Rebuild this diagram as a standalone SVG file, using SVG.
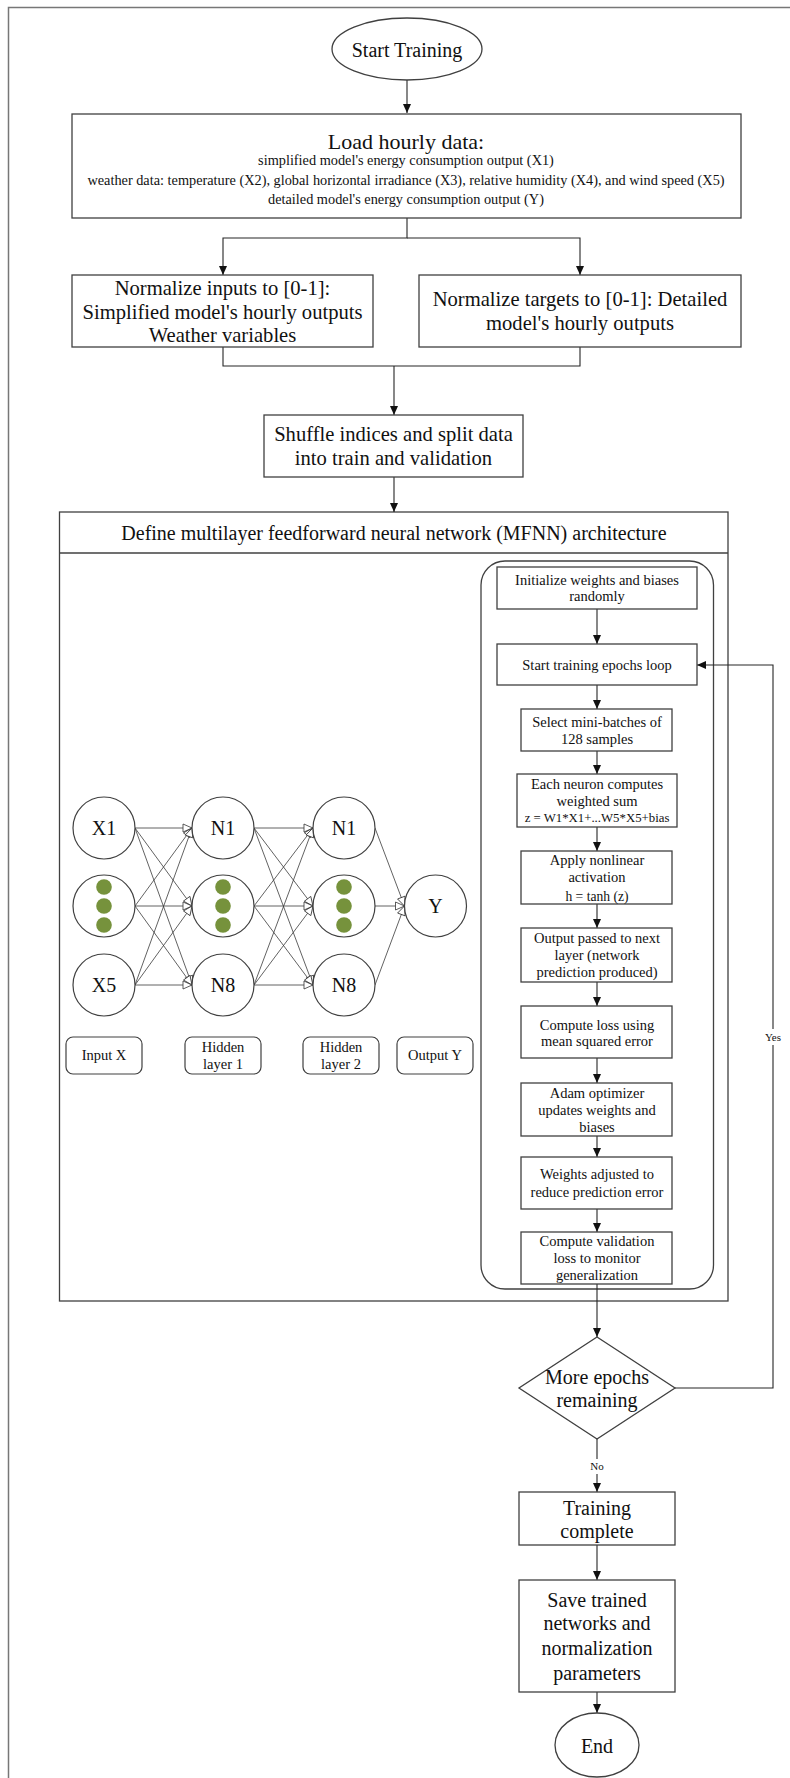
<svg xmlns="http://www.w3.org/2000/svg" width="790" height="1778" viewBox="0 0 790 1778">
  <style>
    text { font-family: "Liberation Serif", "Times New Roman", serif; fill: #111; text-anchor: middle; dominant-baseline: central; }
    .box { fill: #fff; stroke: #404040; stroke-width: 1.3; }
    .lbl { fill: #fff; stroke: #404040; stroke-width: 1.2; }
    .neuron { fill: #fff; stroke: #404040; stroke-width: 1.2; }
    .dot { fill: #76923c; }
    .edge { fill: none; stroke: #262626; stroke-width: 1.1; }
    .syn { fill: none; stroke: #3a3a3a; stroke-width: 0.8; marker-end: url(#open); }
    .f20 { font-size: 20px; }
    .f205 { font-size: 20.6px; }
    .f22 { font-size: 22px; }
    .f14 { font-size: 14.5px; }
    .f13 { font-size: 14.3px; }
    .f12 { font-size: 13.6px; }
    .f12s { font-size: 12.8px; }
    .f11 { font-size: 11px; }
  </style>
  <defs>
    <marker id="arr" markerUnits="userSpaceOnUse" markerWidth="9" markerHeight="8" refX="9" refY="4" orient="auto">
      <path d="M0,0 L9,4 L0,8 z" fill="#111"/>
    </marker>
    <marker id="open" markerUnits="userSpaceOnUse" markerWidth="12" markerHeight="10" refX="10" refY="5" orient="auto" style="overflow:visible">
      <path d="M1,1 L10,5 L1,9 z" fill="#fff" stroke="#333" stroke-width="0.8"/>
    </marker>
  </defs>

  <rect width="790" height="1778" fill="#fff"/>
  <!-- page frame -->
  <path d="M8.5,1778 V7.5 H790" fill="none" stroke="#777" stroke-width="1.5"/>

  <!-- containers -->
  <g id="mfnn">
    <rect class="box" x="59.5" y="512" width="668.5" height="789"/>
    <line x1="59.5" y1="553" x2="728" y2="553" stroke="#404040" stroke-width="1.3"/>
    <text class="f20" x="394" y="533">Define multilayer feedforward neural network (MFNN) architecture</text>
  </g>
  <g id="training-loop">
    <rect x="481" y="561" width="232.5" height="728" rx="24" ry="24" fill="none" stroke="#404040" stroke-width="1.3"/>
  </g>

  <!-- connectors -->
  <g id="connectors">
    <path class="edge" d="M407,80 V113" marker-end="url(#arr)"/>
    <path class="edge" d="M407,218 V238 H223 V275" marker-end="url(#arr)"/>
    <path class="edge" d="M407,238 H580 V275" marker-end="url(#arr)"/>
    <path class="edge" d="M223,347 V366 H580 V347"/>
    <path class="edge" d="M394,366 V415" marker-end="url(#arr)"/>
    <path class="edge" d="M394,477 V512" marker-end="url(#arr)"/>
    <path class="edge" d="M597,609 V644" marker-end="url(#arr)"/>
    <path class="edge" d="M597,685 V709" marker-end="url(#arr)"/>
    <path class="edge" d="M597,751 V774" marker-end="url(#arr)"/>
    <path class="edge" d="M597,827 V851" marker-end="url(#arr)"/>
    <path class="edge" d="M597,904 V928" marker-end="url(#arr)"/>
    <path class="edge" d="M597,982 V1006" marker-end="url(#arr)"/>
    <path class="edge" d="M597,1058 V1083" marker-end="url(#arr)"/>
    <path class="edge" d="M597,1136 V1157" marker-end="url(#arr)"/>
    <path class="edge" d="M597,1209 V1232" marker-end="url(#arr)"/>
    <path class="edge" d="M597,1284 V1337" marker-end="url(#arr)"/>
    <path class="edge" d="M675,1388 H773 V665 H697" marker-end="url(#arr)"/>
    <path class="edge" d="M597,1439 V1492" marker-end="url(#arr)"/>
    <path class="edge" d="M597,1545 V1580" marker-end="url(#arr)"/>
    <path class="edge" d="M597,1692 V1713" marker-end="url(#arr)"/>
    <rect x="762" y="1029" width="22" height="16" fill="#fff"/>
    <text class="f11" x="773" y="1037">Yes</text>
    <rect x="588" y="1459" width="18" height="15" fill="#fff"/>
    <text class="f11" x="597" y="1466">No</text>

    <!-- network synapses: input -> hidden 1 -->
    <path class="syn" d="M135,828 L192,828"/>
    <path class="syn" d="M135,828 L192,906"/>
    <path class="syn" d="M135,828 L192,985"/>
    <path class="syn" d="M135,906 L192,828"/>
    <path class="syn" d="M135,906 L192,906"/>
    <path class="syn" d="M135,906 L192,985"/>
    <path class="syn" d="M135,985 L192,828"/>
    <path class="syn" d="M135,985 L192,906"/>
    <path class="syn" d="M135,985 L192,985"/>
    <!-- hidden 1 -> hidden 2 -->
    <path class="syn" d="M254,828 L313,828"/>
    <path class="syn" d="M254,828 L313,906"/>
    <path class="syn" d="M254,828 L313,985"/>
    <path class="syn" d="M254,906 L313,828"/>
    <path class="syn" d="M254,906 L313,906"/>
    <path class="syn" d="M254,906 L313,985"/>
    <path class="syn" d="M254,985 L313,828"/>
    <path class="syn" d="M254,985 L313,906"/>
    <path class="syn" d="M254,985 L313,985"/>
    <!-- hidden 2 -> output -->
    <path class="syn" d="M375,828 L404.5,906"/>
    <path class="syn" d="M375,906 L404.5,906"/>
    <path class="syn" d="M375,985 L404.5,906"/>
  </g>

  <!-- main flow -->
  <g id="start">
    <ellipse class="box" cx="407" cy="49" rx="75" ry="31"/>
    <text class="f20" x="407" y="50">Start Training</text>
  </g>
  <g id="load-data">
    <rect class="box" x="72" y="114" width="669" height="104"/>
    <text class="f22" x="406" y="141">Load hourly data:</text>
    <text class="f13" x="406" y="160">simplified model's energy consumption output (X1)</text>
    <text class="f13" x="406" y="179.5">weather data: temperature (X2), global horizontal irradiance (X3), relative humidity (X4), and wind speed (X5)</text>
    <text class="f13" x="406" y="199">detailed model's energy consumption output (Y)</text>
  </g>
  <g id="normalize-inputs">
    <rect class="box" x="72" y="275" width="301" height="72"/>
    <text class="f205" x="222.5" y="288">Normalize inputs to [0-1]:</text>
    <text class="f205" x="222.5" y="312">Simplified model's hourly outputs</text>
    <text class="f205" x="222.5" y="335">Weather variables</text>
  </g>
  <g id="normalize-targets">
    <rect class="box" x="419" y="275" width="322" height="72"/>
    <text class="f205" x="580" y="299">Normalize targets to [0-1]: Detailed</text>
    <text class="f205" x="580" y="323">model's hourly outputs</text>
  </g>
  <g id="shuffle-split">
    <rect class="box" x="264" y="415" width="259" height="62"/>
    <text class="f205" x="393.5" y="434">Shuffle indices and split data</text>
    <text class="f205" x="393.5" y="458">into train and validation</text>
  </g>

  <!-- training steps -->
  <g id="init-weights">
    <rect class="box" x="497" y="567" width="200" height="42"/>
    <text class="f14" x="597" y="580">Initialize weights and biases</text>
    <text class="f14" x="597" y="596">randomly</text>
  </g>
  <g id="epoch-loop">
    <rect class="box" x="497" y="644" width="200" height="41"/>
    <text class="f14" x="597" y="665">Start training epochs loop</text>
  </g>
  <g id="mini-batches">
    <rect class="box" x="521" y="709" width="151" height="42"/>
    <text class="f14" x="597" y="722">Select mini-batches of</text>
    <text class="f14" x="597" y="739">128 samples</text>
  </g>
  <g id="weighted-sum">
    <rect class="box" x="517" y="774" width="160" height="53"/>
    <text class="f14" x="597" y="784">Each neuron computes</text>
    <text class="f14" x="597" y="801">weighted sum</text>
    <text class="f12s" x="597" y="818">z = W1*X1+...W5*X5+bias</text>
  </g>
  <g id="activation">
    <rect class="box" x="521" y="851" width="151" height="53"/>
    <text class="f14" x="597" y="860">Apply nonlinear</text>
    <text class="f14" x="597" y="877">activation</text>
    <text class="f12" x="597" y="896">h = tanh (z)</text>
  </g>
  <g id="forward-pass">
    <rect class="box" x="521" y="928" width="151" height="54"/>
    <text class="f14" x="597" y="938">Output passed to next</text>
    <text class="f14" x="597" y="955">layer (network</text>
    <text class="f14" x="597" y="972">prediction produced)</text>
  </g>
  <g id="compute-loss">
    <rect class="box" x="521" y="1006" width="151" height="52"/>
    <text class="f14" x="597" y="1025">Compute loss using</text>
    <text class="f14" x="597" y="1041">mean squared error</text>
  </g>
  <g id="adam-update">
    <rect class="box" x="521" y="1083" width="151" height="53"/>
    <text class="f14" x="597" y="1093">Adam optimizer</text>
    <text class="f14" x="597" y="1110">updates weights and</text>
    <text class="f14" x="597" y="1127">biases</text>
  </g>
  <g id="weights-adjusted">
    <rect class="box" x="521" y="1157" width="151" height="52"/>
    <text class="f14" x="597" y="1174">Weights adjusted to</text>
    <text class="f14" x="597" y="1192">reduce prediction error</text>
  </g>
  <g id="validation-loss">
    <rect class="box" x="521" y="1232" width="151" height="52"/>
    <text class="f14" x="597" y="1241">Compute validation</text>
    <text class="f14" x="597" y="1258">loss to monitor</text>
    <text class="f14" x="597" y="1275">generalization</text>
  </g>
  <g id="more-epochs">
    <polygon class="box" points="597,1337 675,1388 597,1439 519,1388"/>
    <text class="f20" x="597" y="1377">More epochs</text>
    <text class="f20" x="597" y="1400">remaining</text>
  </g>
  <g id="training-complete">
    <rect class="box" x="519" y="1492" width="156" height="53"/>
    <text class="f20" x="597" y="1508">Training</text>
    <text class="f20" x="597" y="1531">complete</text>
  </g>
  <g id="save-networks">
    <rect class="box" x="519" y="1580" width="156" height="112"/>
    <text class="f20" x="597" y="1600">Save trained</text>
    <text class="f20" x="597" y="1623">networks and</text>
    <text class="f20" x="597" y="1648">normalization</text>
    <text class="f20" x="597" y="1673">parameters</text>
  </g>
  <g id="end">
    <ellipse class="box" cx="597" cy="1745" rx="42" ry="32"/>
    <text class="f20" x="597" y="1746">End</text>
  </g>

  <!-- network neurons -->
  <g id="input-x1">
    <circle class="neuron" cx="104" cy="828" r="31"/>
    <text class="f20" x="104" y="828">X1</text>
  </g>
  <g id="input-mid">
    <circle class="neuron" cx="104" cy="906" r="31"/>
    <circle class="dot" cx="104" cy="887" r="7.8"/>
    <circle class="dot" cx="104" cy="906" r="7.8"/>
    <circle class="dot" cx="104" cy="925" r="7.8"/>
  </g>
  <g id="input-x5">
    <circle class="neuron" cx="104" cy="985" r="31"/>
    <text class="f20" x="104" y="985">X5</text>
  </g>
  <g id="h1-n1">
    <circle class="neuron" cx="223" cy="828" r="31"/>
    <text class="f20" x="223" y="828">N1</text>
  </g>
  <g id="h1-mid">
    <circle class="neuron" cx="223" cy="906" r="31"/>
    <circle class="dot" cx="223" cy="887" r="7.8"/>
    <circle class="dot" cx="223" cy="906" r="7.8"/>
    <circle class="dot" cx="223" cy="925" r="7.8"/>
  </g>
  <g id="h1-n8">
    <circle class="neuron" cx="223" cy="985" r="31"/>
    <text class="f20" x="223" y="985">N8</text>
  </g>
  <g id="h2-n1">
    <circle class="neuron" cx="344" cy="828" r="31"/>
    <text class="f20" x="344" y="828">N1</text>
  </g>
  <g id="h2-mid">
    <circle class="neuron" cx="344" cy="906" r="31"/>
    <circle class="dot" cx="344" cy="887" r="7.8"/>
    <circle class="dot" cx="344" cy="906" r="7.8"/>
    <circle class="dot" cx="344" cy="925" r="7.8"/>
  </g>
  <g id="h2-n8">
    <circle class="neuron" cx="344" cy="985" r="31"/>
    <text class="f20" x="344" y="985">N8</text>
  </g>
  <g id="output-y">
    <circle class="neuron" cx="435.5" cy="906" r="31"/>
    <text class="f20" x="435.5" y="906">Y</text>
  </g>

  <!-- layer captions -->
  <g id="cap-input">
    <rect class="lbl" x="66" y="1037" width="76" height="37" rx="7"/>
    <text class="f14" x="104" y="1055">Input X</text>
  </g>
  <g id="cap-hidden1">
    <rect class="lbl" x="185" y="1037" width="76" height="37" rx="7"/>
    <text class="f14" x="223" y="1047">Hidden</text>
    <text class="f14" x="223" y="1064">layer 1</text>
  </g>
  <g id="cap-hidden2">
    <rect class="lbl" x="303" y="1037" width="76" height="37" rx="7"/>
    <text class="f14" x="341" y="1047">Hidden</text>
    <text class="f14" x="341" y="1064">layer 2</text>
  </g>
  <g id="cap-output">
    <rect class="lbl" x="397" y="1037" width="76" height="37" rx="7"/>
    <text class="f14" x="435" y="1055">Output Y</text>
  </g>
</svg>
